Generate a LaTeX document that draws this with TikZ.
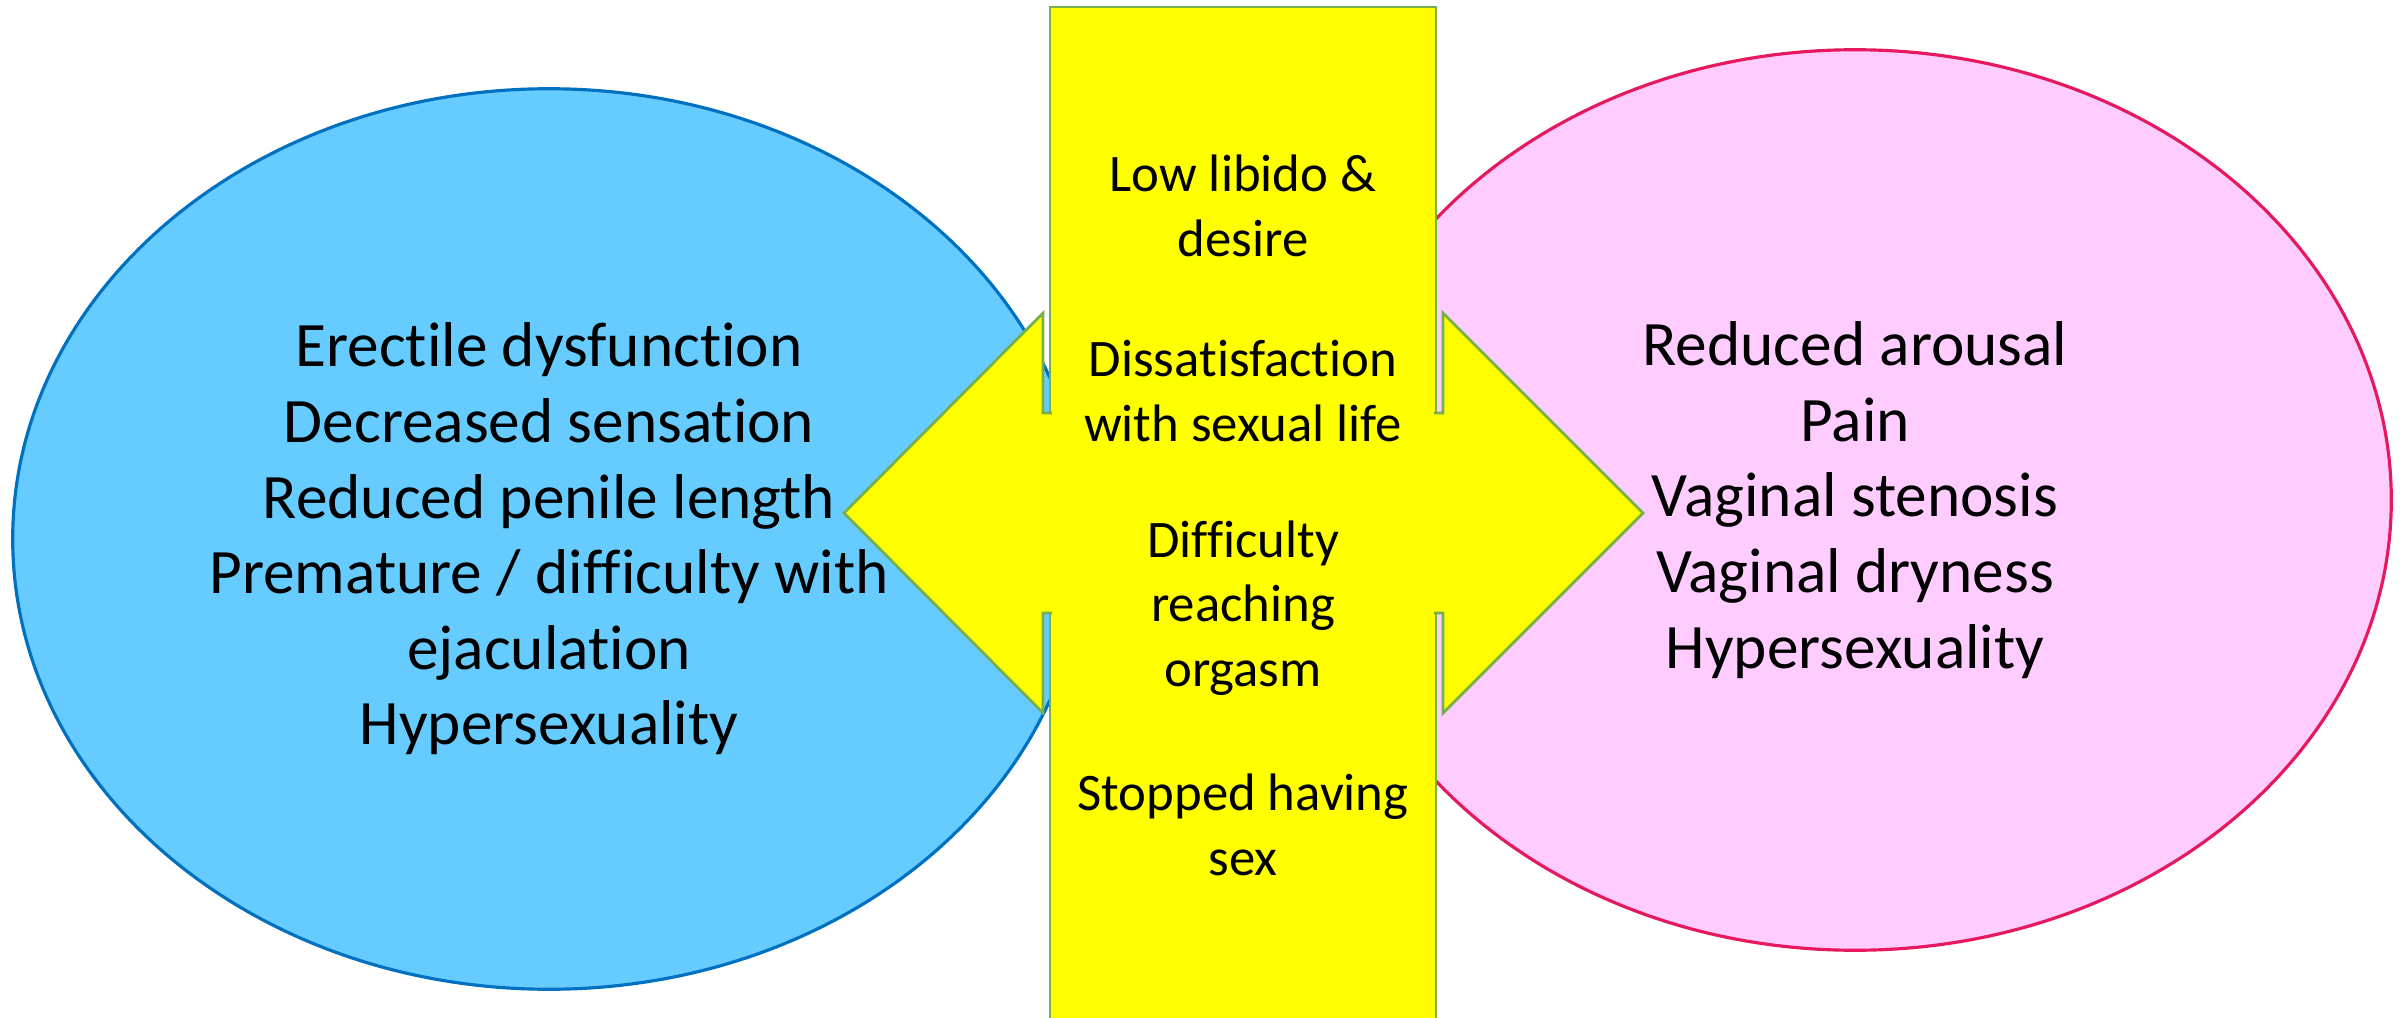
\documentclass[tikz,border=0pt]{standalone}
\usepackage{fontspec}
\setmainfont{Carlito}[Ligatures={NoCommon}]
\usetikzlibrary{shapes.geometric}
\definecolor{menblue}{HTML}{66CCFF}
\definecolor{menedge}{HTML}{0070C0}
\definecolor{womenpink}{HTML}{FFCCFF}
\definecolor{womenedge}{HTML}{E6195F}
\definecolor{barfill}{HTML}{FFFF00}
\definecolor{baredge}{HTML}{77B04A}

\begin{document}
\begin{tikzpicture}[x=0.01cm,y=-0.01cm,
  oval/.style={ellipse,line width=0.9pt,minimum width=10.72cm,minimum height=9cm,inner sep=0pt,align=center,font=\fontsize{18}{21.5}\selectfont},
  item/.style={align=center,inner sep=0pt,font=\fontsize{15}{18.3}\selectfont}]
\useasboundingbox (0,0) rectangle (2405,1018);
\node[oval,draw=menedge,fill=menblue] (men) at (549,539) {Erectile dysfunction\\Decreased sensation\\Reduced penile length\\Premature / difficulty with\\ejaculation\\Hypersexuality};
\node[oval,draw=womenedge,fill=womenpink] (women) at (1855,500) {Reduced arousal\\Pain\\Vaginal stenosis\\Vaginal dryness\\Hypersexuality};
% centre bar and double arrow
\draw[baredge,line width=0.8pt,fill=barfill] (1050,7) rectangle (1436,1030);
\draw[baredge,line width=0.8pt,fill=barfill] (844,513) -- (1043,313) -- (1043,413) -- (1443,413) -- (1443,313) -- (1643,513) -- (1443,713) -- (1443,613) -- (1043,613) -- (1043,713) -- cycle;
\fill[barfill] (1052,9) rectangle (1434,1030);
\node[item] (libido) at (1243,206) {Low libido \&\\desire};
\node[item] (dissat) at (1243,391) {Dissatisfaction\\with sexual life};
\node[item] (orgasm) at (1243,608) {Difficulty\\reaching\\orgasm};
\node[item] (stopped) at (1243,825) {Stopped having\\sex};
\end{tikzpicture}
\end{document}
